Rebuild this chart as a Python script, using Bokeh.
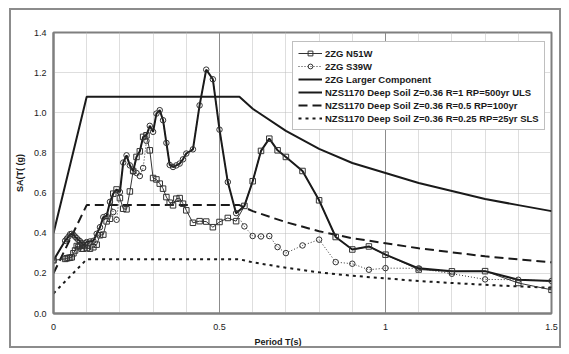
from bokeh.plotting import figure
from bokeh.models import FixedTicker, Legend, LegendItem, Range1d, Title, NumeralTickFormatter
from bokeh.embed import file_html
from bokeh.resources import INLINE

# Periods of the record spectra (s)
T_REC = [0, 0.035, 0.04, 0.045, 0.05, 0.055, 0.06, 0.065, 0.07, 0.075, 0.08, 0.085,
         0.09, 0.095, 0.10, 0.11, 0.12, 0.13, 0.14, 0.15, 0.16, 0.17, 0.18, 0.19, 0.20,
         0.21, 0.22, 0.23, 0.24, 0.25, 0.26, 0.27, 0.28, 0.29, 0.30, 0.31, 0.32, 0.33,
         0.34, 0.35, 0.36, 0.37, 0.38, 0.39, 0.40, 0.42, 0.44, 0.46, 0.48, 0.50, 0.525,
         0.55, 0.575, 0.60, 0.625, 0.65, 0.675, 0.70, 0.75, 0.80, 0.85, 0.90, 0.95, 1.00,
         1.10, 1.20, 1.30, 1.40, 1.50]

N51W = [0.265, 0.272, 0.275, 0.277, 0.278, 0.280, 0.300, 0.314, 0.336, 0.331, 0.339, 0.323,
        0.323, 0.339, 0.326, 0.323, 0.330, 0.343, 0.390, 0.393, 0.459, 0.472, 0.597, 0.618, 0.575,
        0.522, 0.519, 0.608, 0.710, 0.780, 0.808, 0.880, 0.888, 0.813, 0.675, 0.668, 0.647, 0.622,
        0.580, 0.552, 0.539, 0.572, 0.575, 0.547, 0.514, 0.452, 0.460, 0.458, 0.430, 0.456, 0.476,
        0.460, 0.536, 0.659, 0.810, 0.871, 0.813, 0.780, 0.710, 0.564, 0.381, 0.319, 0.334, 0.293,
        0.219, 0.210, 0.211, 0.152, 0.118]

S39W = [0.265, 0.362, 0.372, 0.382, 0.395, 0.397, 0.392, 0.383, 0.375, 0.366, 0.360, 0.350,
        0.339, 0.350, 0.356, 0.359, 0.362, 0.397, 0.430, 0.480, 0.486, 0.556, 0.505, 0.467, 0.605,
        0.752, 0.788, 0.738, 0.708, 0.700, 0.685, 0.725, 0.860, 0.935, 0.905, 0.996, 1.013, 0.963,
        0.850, 0.740, 0.730, 0.738, 0.747, 0.768, 0.797, 0.818, 1.037, 1.215, 1.167, 0.916, 0.655,
        0.500, 0.434, 0.386, 0.384, 0.386, 0.331, 0.301, 0.339, 0.368, 0.256, 0.248, 0.218, 0.226,
        0.225, 0.198, 0.170, 0.168, 0.162]

LARGER = [0.265, 0.362, 0.372, 0.382, 0.395, 0.397, 0.392, 0.383, 0.375, 0.366, 0.360, 0.350,
          0.339, 0.350, 0.356, 0.359, 0.362, 0.397, 0.430, 0.480, 0.486, 0.556, 0.597, 0.618, 0.605,
          0.752, 0.788, 0.738, 0.710, 0.780, 0.808, 0.880, 0.888, 0.935, 0.905, 0.996, 1.013, 0.963,
          0.850, 0.740, 0.730, 0.738, 0.747, 0.768, 0.797, 0.818, 1.037, 1.215, 1.167, 0.916, 0.655,
          0.500, 0.536, 0.659, 0.810, 0.871, 0.813, 0.780, 0.710, 0.564, 0.381, 0.319, 0.334, 0.293,
          0.225, 0.210, 0.211, 0.168, 0.162]

# NZS1170 design spectra
T_CODE = [0, 0.1, 0.56, 0.6, 0.7, 0.8, 0.9, 1.0, 1.1, 1.2, 1.3, 1.4, 1.5]
ULS = [0.40, 1.08, 1.08, 1.02, 0.91, 0.82, 0.75, 0.70, 0.65, 0.61, 0.57, 0.54, 0.51]
RP100 = [0.20, 0.54, 0.54, 0.51, 0.455, 0.41, 0.375, 0.35, 0.325, 0.305, 0.285, 0.27, 0.255]
SLS = [0.10, 0.27, 0.27, 0.255, 0.228, 0.205, 0.188, 0.175, 0.162, 0.152, 0.143, 0.135, 0.128]

LABELS = ["2ZG N51W", "2ZG S39W", "2ZG Larger Component",
          "NZS1170 Deep Soil Z=0.36 R=1 RP=500yr ULS",
          "NZS1170 Deep Soil Z=0.36 R=0.5 RP=100yr",
          "NZS1170 Deep Soil Z=0.36 R=0.25 RP=25yr SLS"]
X_TICKS = [0, 0.5, 1.0, 1.5]
X_TICK_LABELS = ["0", "0.5", "1", "1.5"]
X_MINOR = [0.1, 0.2, 0.3, 0.4, 0.6, 0.7, 0.8, 0.9, 1.1, 1.2, 1.3, 1.4]
Y_TICKS = [0, 0.2, 0.4, 0.6, 0.8, 1.0, 1.2, 1.4]

FONT = "Liberation Sans"
INK = "#1a1a1a"

p = figure(width=552, height=340, output_backend="svg", toolbar_location=None,
           x_range=Range1d(0, 1.5), y_range=Range1d(0, 1.4),
           min_border_left=40, min_border_right=12, min_border_top=22, min_border_bottom=37,
           styles={"border": "2px solid #8c8c8c", "margin-left": "9px", "margin-top": "8px"})
p.background_fill_color = "white"
p.border_fill_color = "white"
p.outline_line_color = "#7f7f7f"
p.outline_line_width = 2

p.xaxis.ticker = FixedTicker(ticks=X_TICKS, minor_ticks=X_MINOR)
p.yaxis.ticker = FixedTicker(ticks=Y_TICKS)
p.xaxis.major_label_overrides = dict(zip(X_TICKS, X_TICK_LABELS))
p.yaxis.formatter = NumeralTickFormatter(format="0.0")

for ax in (p.xaxis, p.yaxis):
    ax.axis_line_color = "#7f7f7f"
    ax.axis_line_width = 2
    ax.major_tick_line_color = None
    ax.minor_tick_line_color = None
    ax.major_tick_out = 0
    ax.major_tick_in = 0
    ax.minor_tick_out = 0
    ax.minor_tick_in = 0
    ax.major_label_text_font = FONT
    ax.major_label_text_font_size = "9px"
    ax.major_label_text_color = INK
    ax.axis_label_text_font = FONT
    ax.axis_label_text_font_size = "9px"
    ax.axis_label_text_font_style = "bold"
    ax.axis_label_text_color = INK
p.xaxis.major_label_standoff = 10
p.yaxis.major_label_standoff = 7
p.yaxis.axis_label = "SA(T( (g)"
p.yaxis.axis_label_standoff = 6

p.xgrid.grid_line_color = "#8c8c8c"
p.xgrid.grid_line_width = 1
p.xgrid.minor_grid_line_color = "#bdbdbd"
p.xgrid.minor_grid_line_dash = "1 1"
p.ygrid.grid_line_color = "#bdbdbd"
p.ygrid.grid_line_dash = "1 1"

# Design spectra
r_uls = p.line(T_CODE, ULS, line_color=INK, line_width=2)
r_100 = p.line(T_CODE, RP100, line_color=INK, line_width=2, line_dash="9 5")
r_sls = p.line(T_CODE, SLS, line_color=INK, line_width=2, line_dash="3 4")

# Record spectra
r_n_line = p.line(T_REC, N51W, line_color="#333333", line_width=1)
r_s_line = p.line(T_REC, S39W, line_color="#333333", line_width=1, line_dash="1 2")
r_big = p.line(T_REC, LARGER, line_color=INK, line_width=2)
r_n_mk = p.scatter(T_REC, N51W, marker="square", size=5.5, fill_alpha=0,
                   line_color="#333333", line_width=1)
r_s_mk = p.scatter(T_REC, S39W, marker="circle", size=5.5, fill_alpha=0,
                   line_color="#333333", line_width=1)

legend = Legend(items=[
    LegendItem(label=LABELS[0], renderers=[r_n_line, r_n_mk]),
    LegendItem(label=LABELS[1], renderers=[r_s_line, r_s_mk]),
    LegendItem(label=LABELS[2], renderers=[r_big]),
    LegendItem(label=LABELS[3], renderers=[r_uls]),
    LegendItem(label=LABELS[4], renderers=[r_100]),
    LegendItem(label=LABELS[5], renderers=[r_sls]),
], location=(239, 183))
legend.label_text_font = FONT
legend.label_text_font_size = "9.5px"
legend.label_text_font_style = "bold"
legend.label_text_color = INK
legend.label_height = 12
legend.glyph_height = 12
legend.glyph_width = 24
legend.label_standoff = 3
legend.spacing = 1
legend.padding = 5
legend.margin = 0
legend.border_line_color = "#808080"
legend.border_line_width = 1
legend.background_fill_color = "white"
legend.background_fill_alpha = 1
p.add_layout(legend, "center")

xt = Title(text="Period T(s)", align="left", offset=201, standoff=4,
           text_font=FONT, text_font_size="9px", text_font_style="bold", text_color=INK)
p.add_layout(xt, "below")

open("out.html", "w").write(file_html(p, INLINE))
